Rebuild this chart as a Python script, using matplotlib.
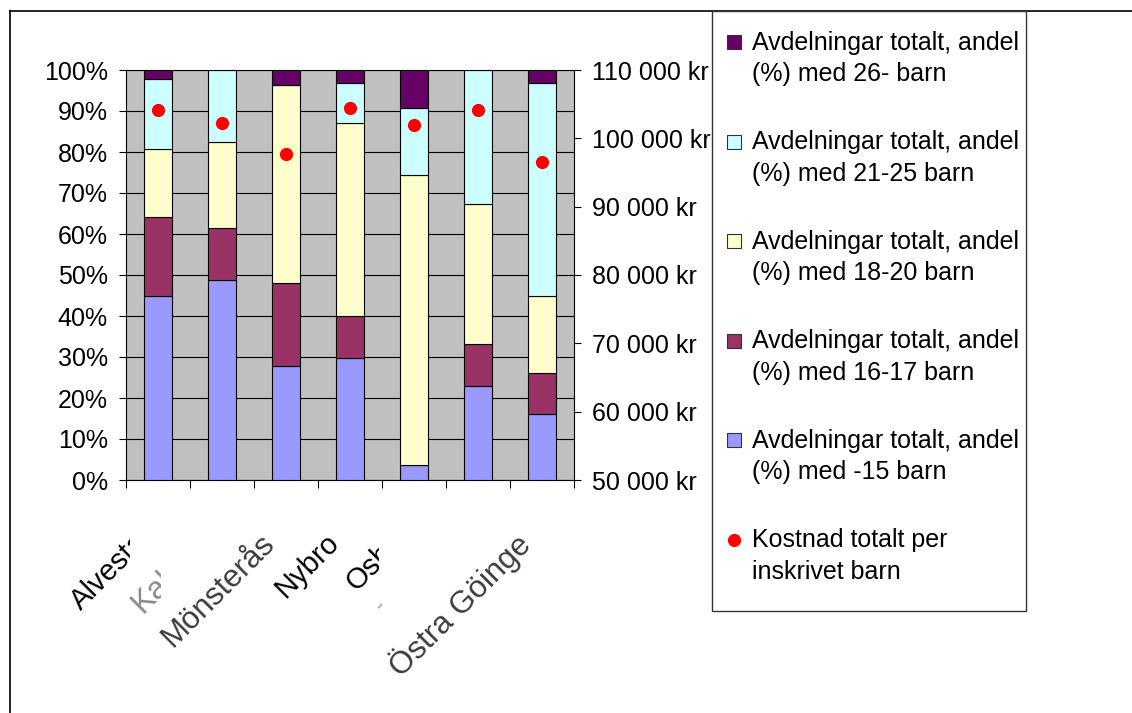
import matplotlib
matplotlib.use("Agg")
import matplotlib.pyplot as plt
from matplotlib.patches import Rectangle
from matplotlib.lines import Line2D
import numpy as np

W, H = 1132, 713

# categories (the 2nd and 6th labels are hidden under their neighbours in the original)
kommuner = ["Alvesta", "Kalmar", "Mönsterås", "Nybro", "Osby", "Tingsryd", "Östra Göinge"]

# share of departments (%) by group size
andel_15 = [44.8, 48.7, 27.8, 29.8, 3.7, 22.9, 16.0]
andel_16_17 = [19.3, 12.7, 20.3, 10.3, 0.0, 10.2, 10.2]
andel_18_20 = [16.6, 21.0, 48.2, 47.0, 70.6, 34.2, 18.6]
andel_21_25 = [17.1, 17.6, 0.0, 9.7, 16.4, 32.7, 52.0]
andel_26 = [2.2, 0.0, 3.7, 3.2, 9.3, 0.0, 3.2]

# cost per enrolled child (kr)
kostnad = [104100, 102300, 97700, 104500, 101900, 104100, 96500]

serier = [
    ("Avdelningar totalt, andel\n(%) med -15 barn", andel_15, "#9999FF"),
    ("Avdelningar totalt, andel\n(%) med 16-17 barn", andel_16_17, "#993366"),
    ("Avdelningar totalt, andel\n(%) med 18-20 barn", andel_18_20, "#FFFFCC"),
    ("Avdelningar totalt, andel\n(%) med 21-25 barn", andel_21_25, "#CCFFFF"),
    ("Avdelningar totalt, andel\n(%) med 26- barn", andel_26, "#660066"),
]
kostnad_namn = "Kostnad totalt per\ninskrivet barn"

plt.rcParams["font.family"] = ["Liberation Sans", "DejaVu Sans"]
FS = 18
FS_X = 21

fig = plt.figure(figsize=(W / 100, H / 100), dpi=100)
fig.patch.set_facecolor("white")

# plot area in pixels: left 126, right 574, top 70, bottom 480
ax = fig.add_axes([126 / W, (H - 480) / H, (574 - 126) / W, (480 - 70) / H])
ax.set_facecolor("#C0C0C0")

x = np.arange(len(kommuner))
bottom = np.zeros(len(kommuner))
for namn, vals, col in serier:
    ax.bar(x, vals, 0.44, bottom=bottom, color=col, edgecolor="black",
           linewidth=0.8, zorder=3)
    bottom += np.array(vals)

ax.set_xlim(-0.5, len(kommuner) - 0.5)
ax.set_ylim(0, 100)
ax.set_yticks(np.arange(0, 101, 10))
ax.set_yticklabels([f"{v}%" for v in range(0, 101, 10)], fontsize=FS)
ax.yaxis.grid(True, color="black", linewidth=0.8, zorder=1)
ax.set_axisbelow(True)
ax.set_xticks(np.arange(-0.5, len(kommuner), 1.0))
ax.set_xticklabels([])
ax.tick_params(axis="x", length=6, width=0.8, color="black")
ax.tick_params(axis="y", length=5, width=0.8, pad=8, color="black")
for s in ax.spines.values():
    s.set_color("black")
    s.set_linewidth(0.8)

ax2 = ax.twinx()
ax2.plot(x, kostnad, "o", color="red", markersize=8.5, zorder=5)
ax2.set_ylim(50000, 110000)
rt = np.arange(50000, 110001, 10000)
ax2.set_yticks(rt)
ax2.set_yticklabels([f"{v:,}".replace(",", " ") + " kr" for v in rt], fontsize=FS)
ax2.tick_params(axis="y", length=5, width=0.8, pad=8, color="black")
for s in ax2.spines.values():
    s.set_visible(False)

# rotated category labels, each drawn on an opaque box like in the original,
# so later labels hide parts of earlier ones. Some came out grey and wider.
label_color = {"Kalmar": "#8a8a8a", "Mönsterås": "#3c3c3c",
               "Tingsryd": "#b0b0b0", "Östra Göinge": "#3c3c3c"}
wide_labels = ["Kalmar", "Mönsterås", "Östra Göinge"]
labels = []
for i, k in enumerate(kommuner):
    t = ax.annotate(k, xy=(i, 0), xycoords=("data", "axes fraction"),
                    xytext=(-3.5, -34.5), textcoords="offset points",
                    rotation=45, ha="right", va="top",
                    fontsize=FS_X + 1.5 if k in wide_labels else FS_X,
                    color=label_color.get(k, "black"),
                    annotation_clip=False, zorder=20 + 2 * i)
    labels.append(t)

fig.canvas.draw()
rend = fig.canvas.get_renderer()
for i, t in enumerate(labels):
    bb = t.get_window_extent(rend)
    inset = 0 if i == len(labels) - 1 else 4
    box = Rectangle((bb.x0 + inset, bb.y0), bb.width - inset, bb.height, transform=None,
                    facecolor="white", edgecolor="none", clip_on=False,
                    zorder=19 + 2 * i)
    ax.add_artist(box)


def fx(px):
    return px / W


def fy(py):
    return 1 - py / H


# chart border (runs off the right and bottom of the image)
fig.add_artist(Line2D([fx(10), fx(10)], [0, fy(11)], color="black", linewidth=1.2))
fig.add_artist(Line2D([fx(10), 1], [fy(11), fy(11)], color="black", linewidth=1.2))

# legend box
fig.add_artist(Rectangle((fx(712), fy(611)), fx(1026) - fx(712), fy(11) - fy(611),
                         transform=fig.transFigure, facecolor="white",
                         edgecolor="#333333", linewidth=1.0, zorder=5))

step = 99.5
y0 = 42
for j, (namn, vals, col) in enumerate(serier[::-1]):
    yc = y0 + j * step
    fig.add_artist(Rectangle((fx(727), fy(yc + 7)), fx(14), 14 / H,
                             transform=fig.transFigure, facecolor=col,
                             edgecolor="#333333", linewidth=0.8, zorder=6))
    fig.text(fx(752), fy(yc + 16.5), namn, fontsize=FS, ha="left", va="center",
             linespacing=1.4, zorder=6)

yc = y0 + len(serier) * step
fig.add_artist(Line2D([fx(734)], [fy(yc)], marker="o", color="red",
                      markersize=8.5, linestyle="none", zorder=6))
fig.text(fx(752), fy(yc + 16.5), kostnad_namn, fontsize=FS, ha="left", va="center",
         linespacing=1.4, zorder=6)

fig.savefig("out.png", dpi=100)
